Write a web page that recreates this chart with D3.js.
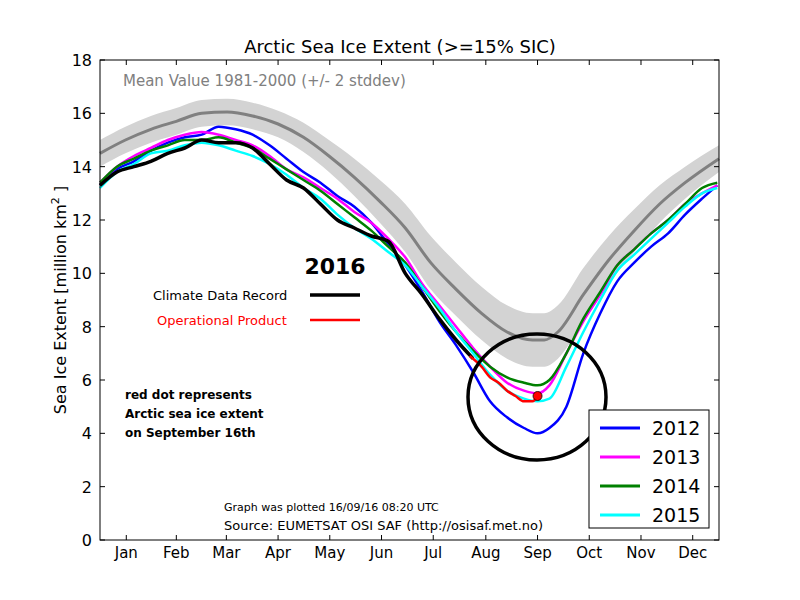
<!DOCTYPE html>
<html><head><meta charset="utf-8">
<script src="https://cdn.jsdelivr.net/npm/d3@7"></script>
<style>body{margin:0;background:#fff}text{font-family:"DejaVu Sans",sans-serif}</style>
</head><body><svg id="c" width="800" height="600"></svg>
<script>
const months=["Jan","Feb","Mar","Apr","May","Jun","Jul","Aug","Sep","Oct","Nov","Dec"];
const yTicks=[0,2,4,6,8,10,12,14,16,18];
const meanDays=[0,15,30,45,60,75,90,105,120,135,150,165,180,195,210,225,240,255,262,270,285,300,315,330,345,365];
const meanVals=[14.5,15.0,15.4,15.7,16.0,16.05,15.9,15.6,15.1,14.4,13.6,12.7,11.7,10.4,9.4,8.5,7.8,7.5,7.5,7.8,9.2,10.5,11.6,12.6,13.4,14.3];
const meanSd=[0.5,0.5,0.5,0.5,0.5,0.5,0.5,0.5,0.55,0.6,0.7,0.8,0.9,1.0,1.0,1.0,1.0,1.0,1.0,1.0,1.0,0.9,0.8,0.7,0.6,0.5];
const days=[0,10,20,30,40,50,60,70,80,90,100,110,120,130,140,150,160,170,180,190,200,210,220,230,240,250,258,265,275,285,295,305,315,325,335,345,355,364];
const y2012=[13.3,13.9,14.2,14.6,14.9,15.1,15.2,15.5,15.4,15.2,14.8,14.3,13.8,13.4,12.9,12.5,11.9,11.1,10.3,9.3,8.2,7.3,6.3,5.2,4.6,4.2,4.0,4.2,5.0,7.0,8.5,9.7,10.4,11.0,11.5,12.2,12.8,13.3];
const y2013=[13.4,14.0,14.4,14.7,15.0,15.2,15.3,15.2,15.0,14.8,14.4,13.9,13.6,13.2,12.8,12.3,11.9,11.3,10.6,9.6,8.8,8.0,7.2,6.5,5.9,5.6,5.5,5.8,7.0,8.2,9.2,10.3,10.9,11.5,12.0,12.6,13.0,13.3];
const y2014=[13.4,14.0,14.3,14.6,14.8,15.0,15.0,15.1,14.9,14.7,14.3,13.9,13.5,13.1,12.6,12.1,11.6,11.0,10.4,9.5,8.6,7.8,7.1,6.5,6.1,5.9,5.8,6.0,7.0,8.3,9.3,10.3,10.9,11.5,12.0,12.6,13.2,13.4];
const y2015=[13.2,13.8,14.1,14.5,14.6,14.8,14.9,14.8,14.6,14.4,14.1,13.7,13.2,12.8,12.2,11.7,11.3,10.8,10.3,9.5,8.7,7.8,7.0,6.2,5.6,5.3,5.2,5.3,6.5,7.8,9.0,10.1,10.7,11.3,11.9,12.5,13.0,13.2];
const cdrDays=[0,10,20,30,40,50,60,70,80,90,100,110,120,130,140,150,160,170,180,190,200,210,220];
const cdrVals=[13.3,13.8,14.0,14.2,14.5,14.7,15.0,14.9,14.9,14.7,14.1,13.5,13.2,12.6,12.0,11.7,11.4,11.2,10.0,9.2,8.3,7.5,6.8];
const opDays=[218,225,230,235,240,245,250,255,258];
const opVals=[6.9,6.5,6.1,5.9,5.6,5.4,5.2,5.2,5.4];

const svg=d3.select("#c");
const L=100,R=719,T=60,B=540;
const x=d3.scaleLinear().domain([0,365]).range([L,R]);
const y=d3.scaleLinear().domain([0,18]).range([B,T]);
const line=d3.line().x(d=>x(d[0])).y(d=>y(d[1])).curve(d3.curveMonotoneX);
const g=svg.append("g");
g.append("path").datum(meanDays.map((d,i)=>[d,meanVals[i],meanSd[i]]))
 .attr("d",d3.area().x(d=>x(d[0])).y0(d=>y(d[1]-d[2])).y1(d=>y(d[1]+d[2])).curve(d3.curveMonotoneX))
 .attr("fill","#d3d3d3");
g.append("path").datum(meanDays.map((d,i)=>[d,meanVals[i]])).attr("d",line).attr("fill","none").attr("stroke","#808080").attr("stroke-width",3);
const series=[[y2012,"#0000ff"],[y2013,"#ff00ff"],[y2014,"#008000"],[y2015,"#00ffff"]];
series.forEach(([v,c])=>g.append("path").datum(days.map((d,i)=>[d,v[i]])).attr("d",line).attr("fill","none").attr("stroke",c).attr("stroke-width",2.5));
g.append("path").datum(cdrDays.map((d,i)=>[d,cdrVals[i]])).attr("d",line).attr("fill","none").attr("stroke","#000").attr("stroke-width",3.5);
g.append("path").datum(opDays.map((d,i)=>[d,opVals[i]])).attr("d",line).attr("fill","none").attr("stroke","#ff0000").attr("stroke-width",2.5);
g.append("circle").attr("cx",x(opDays[opDays.length-1])).attr("cy",y(opVals[opVals.length-1])).attr("r",4.5).attr("fill","#ff0000").attr("stroke","#000").attr("stroke-width",0.8);
svg.append("ellipse").attr("cx",537).attr("cy",397).attr("rx",69).attr("ry",63).attr("fill","none").attr("stroke","#000").attr("stroke-width",3.5);

svg.append("rect").attr("x",L).attr("y",T).attr("width",R-L).attr("height",B-T).attr("fill","none").attr("stroke","#000");
// axes
yTicks.forEach(t=>{
 svg.append("line").attr("x1",L).attr("x2",L+5).attr("y1",y(t)).attr("y2",y(t)).attr("stroke","#000");
 svg.append("line").attr("x1",R).attr("x2",R-5).attr("y1",y(t)).attr("y2",y(t)).attr("stroke","#000");
 svg.append("text").attr("x",L-8).attr("y",y(t)+6).attr("text-anchor","end").attr("font-size",16).text(t);
});
const mStart=[0,31,59,90,120,151,181,212,243,273,304,334,365];
months.forEach((m,i)=>{
 const c=(mStart[i]+mStart[i+1])/2;
 svg.append("line").attr("x1",x(c)).attr("x2",x(c)).attr("y1",B).attr("y2",B-5).attr("stroke","#000");
 svg.append("line").attr("x1",x(c)).attr("x2",x(c)).attr("y1",T).attr("y2",T+5).attr("stroke","#000");
 svg.append("text").attr("x",x(c)).attr("y",B+18).attr("text-anchor","middle").attr("font-size",15).text(m);
});
svg.append("text").attr("x",400).attr("y",53).attr("text-anchor","middle").attr("font-size",18).text("Arctic Sea Ice Extent (>=15% SIC)");
const yl=svg.append("text").attr("transform","translate(66,300) rotate(-90)").attr("text-anchor","middle").attr("font-size",16);
yl.append("tspan").text("Sea Ice Extent [million km");
yl.append("tspan").attr("font-size",11).attr("dy",-7).text("2");
yl.append("tspan").attr("dy",7).text(" ]");
svg.append("text").attr("x",123).attr("y",86).attr("font-size",15).attr("fill","#808080").text("Mean Value 1981-2000 (+/- 2 stddev)");
svg.append("text").attr("x",335).attr("y",274).attr("text-anchor","middle").attr("font-size",22).attr("font-weight","bold").text("2016");
svg.append("text").attr("x",153).attr("y",300).attr("font-size",13).text("Climate Data Record");
svg.append("line").attr("x1",310).attr("x2",360).attr("y1",295).attr("y2",295).attr("stroke","#000").attr("stroke-width",3.5);
svg.append("text").attr("x",157).attr("y",325).attr("font-size",13).attr("fill","#ff0000").text("Operational Product");
svg.append("line").attr("x1",310).attr("x2",360).attr("y1",320).attr("y2",320).attr("stroke","#ff0000").attr("stroke-width",2.5);
["red dot represents","Arctic sea ice extent","on September 16th"].forEach((t,i)=>
 svg.append("text").attr("x",125).attr("y",399+i*19).attr("font-size",12).attr("font-weight","bold").text(t));
svg.append("text").attr("x",224).attr("y",511).attr("font-size",11).text("Graph was plotted 16/09/16 08:20 UTC");
svg.append("text").attr("x",224).attr("y",530).attr("font-size",13).text("Source: EUMETSAT OSI SAF (http://osisaf.met.no)");
svg.append("rect").attr("x",589).attr("y",410).attr("width",120).attr("height",118).attr("fill","#fff").attr("stroke","#000");
["2012","2013","2014","2015"].forEach((t,i)=>{
 const yy=428+i*29;
 svg.append("line").attr("x1",600).attr("x2",640).attr("y1",yy).attr("y2",yy).attr("stroke",series[i][1]).attr("stroke-width",3);
 svg.append("text").attr("x",652).attr("y",yy+7).attr("font-size",19).text(t);
});
</script></body></html>
